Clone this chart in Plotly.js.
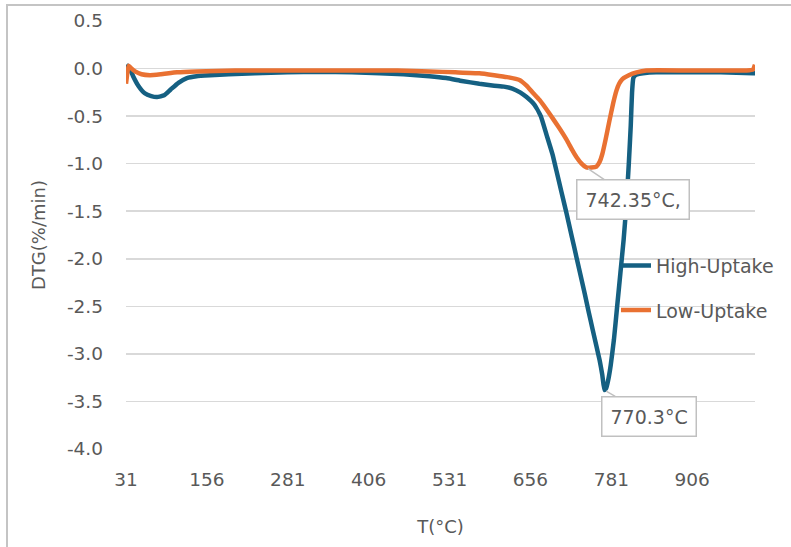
<!DOCTYPE html>
<html>
<head>
<meta charset="utf-8">
<script src="https://cdn.plot.ly/plotly-3.0.1.min.js"></script>
<style>
  html, body { margin: 0; padding: 0; background: #ffffff; }
  #chart { position: absolute; left: 0; top: 0; width: 791px; height: 547px; }
  #frame { position: absolute; left: 6px; top: 4px; width: 900px; height: 700px;
           border-left: 2px solid #c4c4c4; border-top: 2px solid #c4c4c4; pointer-events: none; }
</style>
</head>
<body>
<div id="chart"></div>
<div id="frame"></div>
<script>
// DTG curves, temperature in °C and mass-loss rate in %/min
const highT = [31, 34, 37, 42, 50, 60, 70, 79, 90, 100, 112, 125, 140, 161, 190, 230, 280, 330, 380, 423,
  460, 500, 526, 550, 577, 600, 615, 628, 640, 650, 662, 672, 681, 690, 696, 704, 712, 720, 727, 733,
  740, 746, 752, 758, 763, 767, 770.3, 773, 776, 780, 785, 790, 795, 800, 804, 808, 811, 813, 815, 818,
  821, 830, 850, 900, 950, 1000, 1003];
const highDTG = [-0.05, 0.03, 0.0, -0.08, -0.18, -0.26, -0.29, -0.30, -0.28, -0.22, -0.15, -0.10, -0.08, -0.07, -0.06, -0.05, -0.04, -0.035, -0.04, -0.05,
  -0.06, -0.08, -0.10, -0.13, -0.16, -0.18, -0.19, -0.21, -0.25, -0.30, -0.38, -0.50, -0.70, -0.90, -1.07, -1.30, -1.53, -1.77, -1.98, -2.16,
  -2.37, -2.56, -2.74, -2.92, -3.07, -3.22, -3.38, -3.36, -3.28, -3.12, -2.85, -2.50, -2.15, -1.80, -1.45, -1.00, -0.60, -0.25, -0.10, -0.07,
  -0.06, -0.05, -0.04, -0.04, -0.04, -0.05, -0.05];

const lowT = [31, 33, 35, 38, 45, 55, 68, 85, 110, 140, 200, 300, 400, 450, 500, 540, 577, 600, 620, 639,
  650, 659, 670, 685, 700, 712, 720, 727, 735, 742.35, 750, 758, 763, 767, 772, 778, 784, 789, 793, 798,
  808, 820, 835, 900, 950, 990, 1000, 1003];
const lowDTG = [-0.16, -0.05, 0.03, 0.01, -0.03, -0.06, -0.07, -0.06, -0.04, -0.03, -0.02, -0.02, -0.02, -0.02, -0.03, -0.04, -0.05, -0.07, -0.09, -0.12,
  -0.18, -0.25, -0.33, -0.47, -0.62, -0.75, -0.85, -0.93, -1.00, -1.04, -1.04, -1.03, -0.98, -0.90, -0.75, -0.55, -0.36, -0.23, -0.16, -0.11,
  -0.07, -0.04, -0.02, -0.02, -0.02, -0.02, -0.01, 0.04];

const xTicks = [31, 156, 281, 406, 531, 656, 781, 906];
const yTicks = [0.5, 0.0, -0.5, -1.0, -1.5, -2.0, -2.5, -3.0, -3.5, -4.0];
const seriesNames = ['High-Uptake', 'Low-Uptake'];
const peakLabels = ['770.3°C', '742.35°C,'];

const FONT = 'DejaVu Sans, Arial, sans-serif';
const GREY = '#595959';

const traces = [
  { x: highT, y: highDTG, name: seriesNames[0], type: 'scatter', mode: 'lines', legendgroup: 'h',
    line: { color: '#156082', width: 4.5, shape: 'spline', smoothing: 0.4 } },
  { x: lowT, y: lowDTG, name: seriesNames[1], type: 'scatter', mode: 'lines', legendgroup: 'l',
    line: { color: '#E97132', width: 4.5, shape: 'spline', smoothing: 0.4 } }
];

// mark each curve's minimum with a boxed label
function minIndex(arr) { let k = 0; arr.forEach((v, i) => { if (v < arr[k]) k = i; }); return k; }
const hi = minIndex(highDTG), lo = minIndex(lowDTG);

const boxStyle = {
  showarrow: true, arrowhead: 0, arrowwidth: 1.5, arrowcolor: '#c0c0c0', standoff: 2,
  bgcolor: '#ffffff', bordercolor: '#c0c0c0', borderwidth: 1.5, borderpad: 8,
  font: { family: FONT, size: 19, color: GREY }
};

const layout = {
  width: 791, height: 547,
  margin: { l: 126, r: 34, t: 21, b: 98 },
  paper_bgcolor: '#ffffff', plot_bgcolor: '#ffffff',
  showlegend: true,
  legend: { x: 0.779, y: 0.376, xanchor: 'left', yanchor: 'middle', bgcolor: 'rgba(0,0,0,0)',
            tracegroupgap: 17, traceorder: 'grouped',
            font: { family: FONT, size: 19, color: GREY } },
  xaxis: {
    range: [31, 1003], tickvals: xTicks, ticktext: xTicks.map(String),
    showgrid: false, zeroline: false, showline: false, ticks: '',
    ticklabelstandoff: 17,
    tickfont: { family: FONT, size: 18.5, color: GREY },
    title: { text: 'T(°C)', standoff: 31, font: { family: FONT, size: 18, color: GREY } }
  },
  yaxis: {
    range: [-4.0, 0.5], tickvals: yTicks, ticktext: yTicks.map(v => v.toFixed(1)),
    showgrid: true, gridcolor: '#d9d9d9', gridwidth: 1.5,
    zeroline: false, showline: false, ticks: '',
    ticklabelstandoff: 22,
    tickfont: { family: FONT, size: 18.5, color: GREY },
    title: { text: 'DTG(%/min)', standoff: 16, font: { family: FONT, size: 18, color: GREY } }
  },
  annotations: [
    Object.assign({ x: highT[hi], y: highDTG[hi], text: peakLabels[0], ax: 45, ay: 26 }, boxStyle),
    Object.assign({ x: lowT[lo], y: lowDTG[lo], text: peakLabels[1], ax: 47, ay: 32 }, boxStyle)
  ]
};

Plotly.newPlot('chart', traces, layout, { displayModeBar: false, staticPlot: true });
</script>
</body>
</html>
